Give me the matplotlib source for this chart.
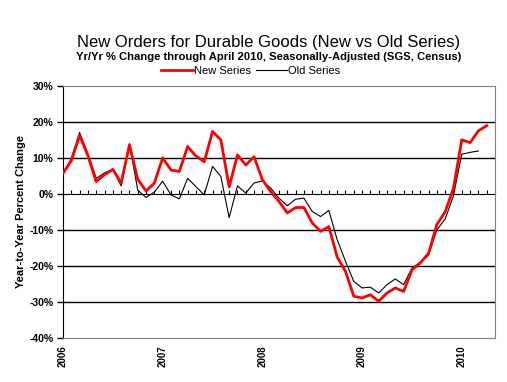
import numpy as np
import matplotlib
matplotlib.use("Agg")
import matplotlib.pyplot as plt

plt.rcParams['font.family'] = ['Liberation Sans', 'DejaVu Sans']

# monthly yr/yr % change, Jan 2006 .. Apr 2010
new_series = [5.7, 9.2, 16.2, 10.6, 3.4, 5.3, 6.8, 3.0, 13.6, 4.0,
              0.8, 3.0, 10.0, 6.6, 6.2, 13.1, 10.5, 8.9, 17.3, 15.0,
              1.9, 10.8, 8.0, 10.3, 3.9, 0.6, -2.1, -5.3, -3.8, -3.8,
              -8.1, -10.4, -9.1, -17.5, -21.5, -28.4, -28.9, -28.0, -29.8, -27.5,
              -26.1, -27.1, -21.1, -19.2, -16.5, -8.5, -5.0, 1.5, 15.0, 14.2,
              17.5, 18.9]
# old series ends March 2010
old_series = [5.5, 9.8, 17.0, 11.0, 4.3, 5.8, 6.8, 2.2, 13.9, 1.0,
              -1.0, 0.5, 3.5, -0.3, -1.4, 4.3, 2.0, -0.3, 7.6, 4.8,
              -6.6, 2.2, 0.2, 3.0, 3.6, 1.6, -1.2, -3.3, -1.5, -1.2,
              -4.9, -6.3, -4.6, -12.7, -18.7, -24.3, -26.1, -25.9, -27.5, -25.2,
              -23.6, -25.2, -20.6, -19.0, -17.0, -10.0, -7.0, -0.5, 11.0, 11.5,
              11.9]
year_labels = ['2006', '2007', '2008', '2009', '2010']
year_pos = [0, 12, 24, 36, 48]

fig = plt.figure(figsize=(5.07, 3.82), dpi=100)
ax = fig.add_axes([63/507, 1-338/382, (495-63)/507, (338-85.7)/382])

months = np.arange(len(new_series))
old_line, = ax.plot(np.arange(len(old_series)), old_series, color='black', lw=0.8, zorder=3)
new_line, = ax.plot(months, new_series, color='#ff0000', lw=2.0, zorder=4)

ax.set_xlim(0, 52)
ax.set_ylim(-40, 30)

for g in [20, 10, -10, -20, -30]:
    ax.axhline(g, color='black', lw=1.0, zorder=1)

yt = np.arange(-40, 31, 10)
ax.set_yticks(yt)
ax.set_yticklabels([f'{v}%' for v in yt], fontsize=7.5, fontweight='bold')
ax.tick_params(axis='y', direction='out', length=4, width=1, pad=3)

ax.set_xticks(year_pos)
ax.set_xticklabels(year_labels, rotation=90, fontsize=7, fontweight='bold')
ax.tick_params(axis='x', length=0, pad=5)

for s in ['top', 'right', 'bottom']:
    ax.spines[s].set_color('#808080')
ax.spines['left'].set_color('black')

# month ticks along the zero line
sec = ax.secondary_xaxis(40/70)
sec.set_xticks(np.arange(0, 53))
sec.tick_params(axis='x', direction='out', length=3, width=0.8, labelbottom=False, labeltop=False)
sec.spines['bottom'].set_linewidth(1.0)
sec.spines['bottom'].set_color('black')

ax.set_ylabel('Year-to-Year Percent Change', fontsize=8, fontweight='bold', labelpad=2)

fig.text(0.53, 1-42/382, 'New Orders for Durable Goods (New vs Old Series)',
         ha='center', va='center', fontsize=12)
fig.text(0.53, 1-57/382, 'Yr/Yr % Change through April 2010, Seasonally-Adjusted (SGS, Census)',
         ha='center', va='center', fontsize=8.1, fontweight='bold')

fig.legend(handles=[new_line, old_line], labels=['New Series', 'Old Series'],
           loc='center', bbox_to_anchor=(0.495, 1-71/382), ncol=2, frameon=False,
           fontsize=8, handlelength=2.8, handletextpad=0.1, columnspacing=0.5,
           borderaxespad=0, borderpad=0)

fig.savefig('out.png', dpi=100)
